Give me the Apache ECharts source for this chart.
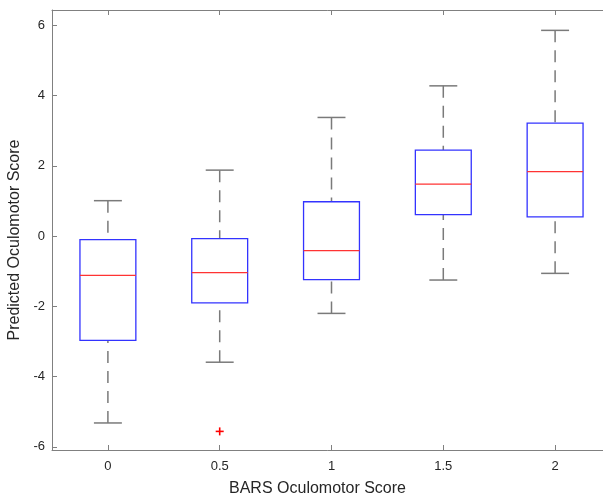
<!DOCTYPE html>
<html>
<head>
<meta charset="utf-8">
<script src="https://cdn.jsdelivr.net/npm/echarts@6/dist/echarts.min.js"></script>
<style>html,body{margin:0;padding:0;background:#fff;overflow:hidden;}#chart{width:603px;height:496px;}</style>
</head>
<body>
<div id="chart"></div>
<script>
// Data
const categories = [0, 0.5, 1, 1.5, 2];
const categoryLabels = ['0', '0.5', '1', '1.5', '2'];
const lowerWhisker = [-5.32, -3.59, -2.20, -1.25, -1.06];
const q1 = [-2.97, -1.90, -1.24, 0.61, 0.55];
const median = [-1.12, -1.04, -0.41, 1.48, 1.84];
const q3 = [-0.10, -0.07, 0.98, 2.45, 3.22];
const upperWhisker = [1.01, 1.88, 3.38, 4.28, 5.86];
const outlierX = [0.5];
const outlierY = [-5.56];
const yTicks = [-6, -4, -2, 0, 2, 4, 6];
const yTickLabels = ['-6', '-4', '-2', '0', '2', '4', '6'];

const boxData = categories.map((c, i) => [c, lowerWhisker[i], q1[i], median[i], q3[i], upperWhisker[i]]);
const outlierData = outlierX.map((x, i) => [x, outlierY[i]]);

const axisColor = '#808080';
const textColor = '#262626';
const font = 'Liberation Sans, Arial, Helvetica, sans-serif';

const chart = echarts.init(document.getElementById('chart'), null, { renderer: 'canvas' });

function renderBox(params, api) {
  const x = api.value(0);
  const lw = api.value(1), bq1 = api.value(2), med = api.value(3), bq3 = api.value(4), uw = api.value(5);
  const half = 0.125, capHalf = 0.0625;
  const pL = api.coord([x - half, bq1]);
  const pR = api.coord([x + half, bq3]);
  const pc = api.coord([x, 0]);
  const yLw = api.coord([x, lw])[1];
  const yUw = api.coord([x, uw])[1];
  const yMed = api.coord([x, med])[1];
  const yQ1 = pL[1], yQ3 = pR[1];
  const cL = api.coord([x - capHalf, 0])[0];
  const cR = api.coord([x + capHalf, 0])[0];
  const whiskerStyle = { stroke: '#7a7a7a', lineWidth: 1.5, lineDash: [12, 8] };
  const capStyle = { stroke: '#7a7a7a', lineWidth: 1.5 };
  return {
    type: 'group',
    children: [
      { type: 'line', shape: { x1: pc[0], y1: yUw, x2: pc[0], y2: yQ3 }, style: whiskerStyle },
      { type: 'line', shape: { x1: pc[0], y1: yLw, x2: pc[0], y2: yQ1 }, style: whiskerStyle },
      { type: 'line', shape: { x1: cL, y1: yUw, x2: cR, y2: yUw }, style: capStyle },
      { type: 'line', shape: { x1: cL, y1: yLw, x2: cR, y2: yLw }, style: capStyle },
      { type: 'rect', shape: { x: pL[0], y: yQ3, width: pR[0] - pL[0], height: yQ1 - yQ3 },
        style: { fill: '#ffffff', stroke: '#3333ff', lineWidth: 1.3 } },
      { type: 'line', shape: { x1: pL[0], y1: yMed, x2: pR[0], y2: yMed },
        style: { stroke: '#ff3333', lineWidth: 1.2 } }
    ]
  };
}

function renderOutlier(params, api) {
  const p = api.coord([api.value(0), api.value(1)]);
  const s = 4;
  const st = { stroke: '#ff0000', lineWidth: 1.6 };
  return {
    type: 'group',
    children: [
      { type: 'line', shape: { x1: p[0] - s, y1: p[1], x2: p[0] + s, y2: p[1] }, style: st },
      { type: 'line', shape: { x1: p[0], y1: p[1] - s, x2: p[0], y2: p[1] + s }, style: st }
    ]
  };
}

const option = {
  backgroundColor: '#ffffff',
  animation: false,
  grid: { show: false, borderWidth: 0, left: 52, right: -8, top: 10, bottom: 46, containLabel: false, outerBoundsMode: 'none' },
  xAxis: [
    {
      type: 'value', position: 'bottom', min: -0.25, max: 2.25,
      name: 'BARS Oculomotor Score', nameLocation: 'middle', nameGap: 31,
      nameTextStyle: { fontSize: 16, color: textColor, fontFamily: font, padding: [0, 28, 0, 0] },
      axisLine: { show: true, onZero: false, lineStyle: { color: axisColor, width: 1 } },
      axisTick: { show: true, inside: true, length: 5, customValues: categories, lineStyle: { color: axisColor } },
      axisLabel: { show: true, customValues: categories, margin: 10, fontSize: 13, color: textColor, fontFamily: font,
        formatter: function (v) { const i = categories.indexOf(v); return i >= 0 ? categoryLabels[i] : ''; } },
      splitLine: { show: false }
    },
    {
      type: 'value', position: 'top', min: -0.25, max: 2.25,
      axisLine: { show: true, onZero: false, lineStyle: { color: axisColor, width: 1 } },
      axisTick: { show: true, inside: true, length: 5, customValues: categories, lineStyle: { color: axisColor } },
      axisLabel: { show: false },
      splitLine: { show: false }
    }
  ],
  yAxis: {
    type: 'value', min: -6.09, max: 6.44,
    name: 'Predicted Oculomotor Score', nameLocation: 'middle', nameGap: 21,
    nameTextStyle: { fontSize: 16, color: textColor, fontFamily: font, padding: [0, 20, 0, 0] },
    axisLine: { show: true, onZero: false, lineStyle: { color: axisColor, width: 1 } },
    axisTick: { show: true, inside: true, length: 5, customValues: yTicks, lineStyle: { color: axisColor } },
    axisLabel: { show: true, customValues: yTicks, margin: 7, fontSize: 13, color: textColor, fontFamily: font,
      formatter: function (v) { const i = yTicks.indexOf(v); return i >= 0 ? yTickLabels[i] : ''; } },
    splitLine: { show: false }
  },
  series: [
    { type: 'custom', xAxisIndex: 0, renderItem: renderBox, data: boxData, encode: { x: 0, y: [1, 2, 3, 4, 5] }, clip: false },
    { type: 'custom', xAxisIndex: 0, renderItem: renderOutlier, data: outlierData, encode: { x: 0, y: 1 } }
  ]
};
chart.setOption(option);
</script>
</body>
</html>
